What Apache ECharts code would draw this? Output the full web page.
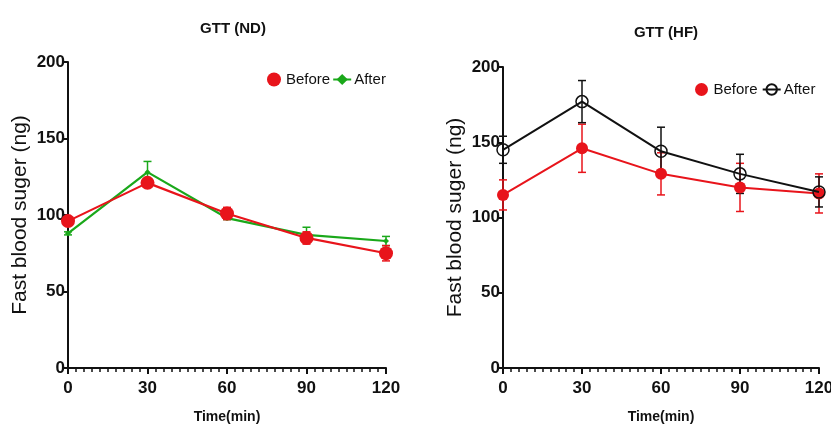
<!DOCTYPE html>
<html>
<head>
<meta charset="utf-8">
<style>
  html, body { margin: 0; padding: 0; background: #fff; }
  #main { width: 831px; height: 426px; }
</style>
</head>
<body>
<div id="main"></div>
<script src="https://cdn.jsdelivr.net/npm/echarts@6/dist/echarts.min.js"></script>
<script>
// time points (min)
var times = [0, 30, 60, 90, 120];

// ND panel
var ndBefore = [96, 121, 101, 85, 75];
var ndBeforeErr = [2, 2, 4, 4, 5];
var ndAfter = [88, 128, 98, 87, 83];
var ndAfterErr = [1, 7, 1, 5, 3];

// HF panel
var hfBefore = [115, 146, 129, 120, 116];
var hfBeforeErr = [10, 16, 14, 16, 13];
var hfAfter = [145, 177, 144, 129, 117];
var hfAfterErr = [9, 14, 16, 13, 10];

var titles = ['GTT (ND)', 'GTT (HF)'];
var yName = 'Fast blood suger (ng)';
var xName = 'Time(min)';

var font = 'Liberation Sans, Arial, sans-serif';

function pairs(vals) {
    return times.map(function (t, i) { return [t, vals[i]]; });
}
function errData(vals, errs) {
    return times.map(function (t, i) { return [t, vals[i] - errs[i], vals[i] + errs[i]]; });
}
// error bars drawn with custom series
function errSeries(idx, vals, errs, color) {
    return {
        type: 'custom',
        xAxisIndex: idx, yAxisIndex: idx,
        z: 1,
        silent: true,
        data: errData(vals, errs),
        renderItem: function (params, api) {
            var lo = api.coord([api.value(0), api.value(1)]);
            var hi = api.coord([api.value(0), api.value(2)]);
            var w = 4;
            var st = { stroke: color, lineWidth: 1.5 };
            return {
                type: 'group',
                children: [
                    { type: 'line', shape: { x1: lo[0], y1: lo[1], x2: hi[0], y2: hi[1] }, style: st },
                    { type: 'line', shape: { x1: lo[0] - w, y1: lo[1], x2: lo[0] + w, y2: lo[1] }, style: st },
                    { type: 'line', shape: { x1: hi[0] - w, y1: hi[1], x2: hi[0] + w, y2: hi[1] }, style: st }
                ]
            };
        }
    };
}

function xAxis(idx) {
    return {
        type: 'value', gridIndex: idx, min: 0, max: 120, interval: 30,
        name: xName, nameLocation: 'middle', nameGap: 42,
        nameTextStyle: { fontFamily: font, fontWeight: 'bold', fontSize: 14, color: '#111' },
        axisLine: { lineStyle: { color: '#111', width: 2 } },
        axisTick: { inside: false, length: 6, lineStyle: { color: '#111', width: 2 } },
        minorTick: { show: true, splitNumber: 10, length: 4, lineStyle: { color: '#111', width: 1.5 } },
        axisLabel: { fontFamily: font, fontWeight: 'bold', fontSize: 17, color: '#111', margin: 12 },
        splitLine: { show: false }
    };
}
function yAxis(idx) {
    return {
        type: 'value', gridIndex: idx, min: 0, max: 200, interval: 50,
        name: yName, nameLocation: 'middle', nameGap: 37,
        nameTextStyle: { fontFamily: font, fontSize: 21, color: '#111' },
        axisLine: { show: true, lineStyle: { color: '#111', width: 2 } },
        axisTick: { show: true, length: 5, lineStyle: { color: '#111', width: 2 } },
        axisLabel: { fontFamily: font, fontWeight: 'bold', fontSize: 17, color: '#111', margin: 3 },
        splitLine: { show: false }
    };
}

var myChart = echarts.init(document.getElementById('main'));

var option = {
    backgroundColor: '#fff',
    animation: false,
    title: [
        { text: titles[0], left: 228, top: 16, textAlign: 'center',
          textStyle: { fontFamily: font, fontWeight: 'bold', fontSize: 15, color: '#111' } },
        { text: titles[1], left: 661, top: 20, textAlign: 'center',
          textStyle: { fontFamily: font, fontWeight: 'bold', fontSize: 15, color: '#111' } }
    ],
    legend: [
        {
            left: 262, top: 67, itemGap: 2, itemWidth: 18, itemHeight: 14,
            textStyle: { fontFamily: font, fontSize: 15, color: '#111', padding: [0, 0, 0, -2] },
            formatter: function (n) { return n.split(' ')[0]; },
            data: [{ name: 'Before ND', icon: 'circle' }, { name: 'After ND' }]
        },
        {
            left: 690, top: 77, itemGap: 4, itemWidth: 18, itemHeight: 13,
            textStyle: { fontFamily: font, fontSize: 15, color: '#111', padding: [0, 0, 0, -2] },
            formatter: function (n) { return n.split(' ')[0]; },
            data: [{ name: 'Before HF', icon: 'circle' }, { name: 'After HF' }]
        }
    ],
    grid: [
        { left: 68, top: 62, width: 318, height: 306, containLabel: false, outerBoundsMode: 'none' },
        { left: 503, top: 67, width: 316, height: 301, containLabel: false, outerBoundsMode: 'none' }
    ],
    xAxis: [xAxis(0), xAxis(1)],
    yAxis: [yAxis(0), yAxis(1)],
    series: [
        errSeries(0, ndAfter, ndAfterErr, '#1aa81a'),
        errSeries(0, ndBefore, ndBeforeErr, '#e8141b'),
        {
            name: 'After ND', type: 'line', xAxisIndex: 0, yAxisIndex: 0, z: 2,
            data: pairs(ndAfter),
            symbol: 'diamond', symbolSize: 6,
            lineStyle: { color: '#1aa81a', width: 2.2 },
            itemStyle: { color: '#1aa81a' }
        },
        {
            name: 'Before ND', type: 'line', xAxisIndex: 0, yAxisIndex: 0, z: 3,
            data: pairs(ndBefore),
            symbol: 'circle', symbolSize: 14,
            lineStyle: { color: '#e8141b', width: 2.2 },
            itemStyle: { color: '#e8141b' }
        },
        errSeries(1, hfBefore, hfBeforeErr, '#e8141b'),
        errSeries(1, hfAfter, hfAfterErr, '#111'),
        {
            name: 'Before HF', type: 'line', xAxisIndex: 1, yAxisIndex: 1, z: 2,
            data: pairs(hfBefore),
            symbol: 'circle', symbolSize: 12,
            lineStyle: { color: '#e8141b', width: 2 },
            itemStyle: { color: '#e8141b' }
        },
        {
            name: 'After HF', type: 'line', xAxisIndex: 1, yAxisIndex: 1, z: 3,
            data: pairs(hfAfter),
            symbol: 'circle', symbolSize: 12,
            lineStyle: { color: '#111', width: 2 },
            itemStyle: { color: 'rgba(255,255,255,0)', borderColor: '#111', borderWidth: 1.5 }
        }
    ]
};

myChart.setOption(option);
</script>
</body>
</html>
